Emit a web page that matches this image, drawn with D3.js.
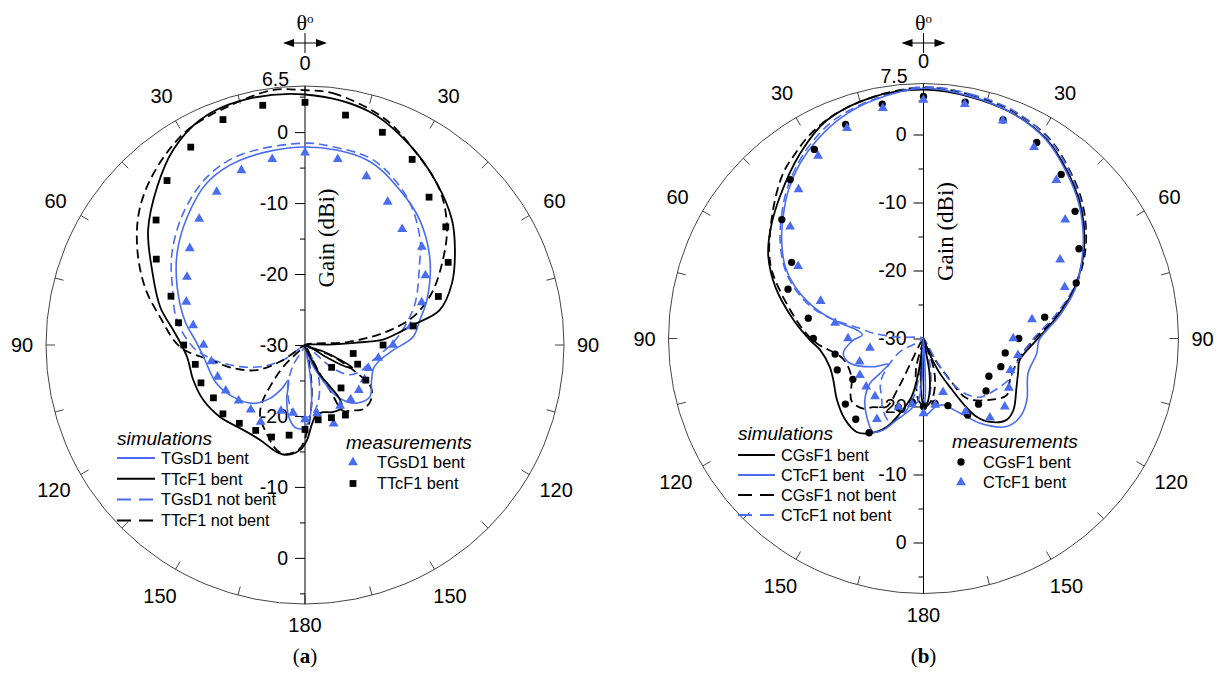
<!DOCTYPE html>
<html>
<head>
<meta charset="utf-8">
<script src="https://cdn.jsdelivr.net/npm/d3@7"></script>
<style>
  body { margin: 0; background: #fff; }
  svg { display: block; font-family: Arial, "Liberation Sans", sans-serif; }
  .serif { font-family: "Times New Roman", "Liberation Serif", serif; }
</style>
</head>
<body>
<svg id="chart" width="1218" height="675"></svg>
<script>
/* Two polar gain patterns (bent vs. not bent textile antennas).
   theta in degrees, 0 at top, clockwise positive, left half negative.
   gain in dBi, centre of each plot = -30 dBi. */

const BLUE = "#4a6cf0";

// measurement angles (10 degree steps round the circle)
const MEAS_THETA = [0, 10, 20, 30, 40, 50, 60, 70, 80, 90, 100, 110, 120, 130, 140, 150, 160, 170, 180,
  -170, -160, -150, -140, -130, -120, -110, -100, -90, -80, -70, -60, -50, -40, -30, -20, -10];

const ANGLE_TICKS = [0, 30, 60, 90, 120, 150, 180];
const GAIN_UP_LABELS = [-30, -20, -10, 0];
const GAIN_DOWN_LABELS = [-20, -10, 0];
const GAIN_MINOR = [-25, -15, -5, 5];

// ---------- panel (a) ----------
const A_TGSD1_BENT = [[0,-2.1],[18.5,-2.5],[31.5,-4.4],[42.6,-6.1],[55.8,-8.7],[69.8,-11.7],[78,-13.5],[85.6,-14.7],
  [93.2,-17.5],[101.3,-19.2],[108.8,-19.8],[117.7,-19.4],[128.5,-18.3],[136.4,-18.8],[143.7,-20.1],[149.6,-22.1],
  [154.7,-25.1],[161.6,-27.8],[166,-30],[170,-26],[172.6,-22.7],[176,-19.9],[180,-18.4],[-174.3,-18.2],[-168.7,-19.2],
  [-161.6,-21.8],[-155,-24.5],[-152,-23],[-146.7,-21],[-138.4,-19],[-125.8,-17.5],[-113.4,-16.4],[-96.6,-15.6],
  [-88,-14.6],[-79,-12.8],[-66,-10.3],[-54.3,-7.8],[-42.7,-5.5],[-31.2,-3.3],[-19.4,-2.4]];

const A_TTCF1_BENT = [[0,5.3],[15.6,4.1],[27.7,1.8],[39.2,-0.6],[49.6,-2.8],[57.7,-5],[67.1,-7.5],[75.5,-10.4],
  [79.5,-14.5],[83,-17],[86,-19],[87.5,-23],[89,-26.5],[91,-30],
  [110,-27],[113,-24.5],[115.5,-22.6],[118,-23.5],[119.5,-26.5],[121,-30],
  [156,-27.7],[153,-25.3],[149,-23.2],[147.2,-21.3],[149.5,-19.7],[158,-19.8],[165,-20.2],[171,-20],[175,-18.8],
  [178.8,-16.6],[-177.3,-15.2],[-170.7,-14.3],[-165.3,-14.4],[-154.7,-15.2],[-143.9,-15.2],[-130.3,-14.3],
  [-118.3,-13.7],[-107.4,-13.5],[-95.8,-13.3],[-87.7,-12.2],[-83.5,-11.3],[-75.3,-8.9],[-63.9,-6],[-53.8,-2.6],
  [-43.1,0.5],[-34,3.2],[-25,5],[-14.9,5.6]];

const A_TGSD1_FLAT = [[0,-1.55],[8,-1.8],[20.2,-2.2],[34.6,-4.7],[46.8,-7.8],[55,-10.3],[69.2,-13.4],[80,-15.8],
  [88,-17.5],[98,-19.5],[108,-20.8],[116,-21.4],[124,-22.5],[130,-25],[136,-30],[152,-27],[160,-24],[168,-21.5],
  [175,-20],[180,-19.8],[-175,-19.8],[-167,-21],[-158,-23.5],[-150,-26.5],[-140,-30],[-125,-26.5],[-116,-23],
  [-108.5,-20.4],[-102.6,-18.2],[-96.8,-16.1],[-91,-14.2],[-79,-11.6],[-66.4,-9.6],[-55.3,-7.2],[-42.7,-4.7],
  [-30.3,-2.6],[-18.9,-1.7]];

const A_TTCF1_FLAT = [[0,5.9],[6.3,5.7],[18.9,3.9],[28.7,1.6],[41,-1.05],[50.3,-4],[58.4,-7.2],[67.7,-10.7],
  [75.5,-14.3],[81.3,-18.9],[86,-24],[89,-30],
  [112,-26],[118,-22],[122.5,-19],[129.8,-17.9],[137.9,-17.8],[144,-18.6],[150,-19.3],[151,-22.5],[153,-26],[159,-30],
  [166,-28.1],[170.9,-24],[175.2,-20.4],[178.9,-17.6],[-177.2,-15.4],[-170.5,-14.4],[-164.9,-14.7],[-156.6,-16.4],
  [-147.9,-18.1],[-143.4,-19.8],[-140,-22.3],[-135,-25.7],[-130,-30],
  [-123.7,-25.8],[-117.4,-22.3],[-108,-19.4],[-99,-16.5],[-90.9,-12.4],[-79.1,-9.2],[-70.1,-6],[-59.7,-2.6],
  [-50.1,0.3],[-39.7,2.6],[-28.8,4.5],[-18.1,5.3],[-7.2,6.2]];

const A_TGSD1_MEAS = [-2.9,-3.4,-4.7,-6.7,-8.7,-8.5,-10.4,-12.5,-14.9,-17.6,-19.5,-20.5,-20.3,-20.1,-20,-20.1,-18.2,-20.2,-19.5,
  -20.3,-20.1,-17.5,-18.1,-17.8,-17.1,-16.9,-16.6,-15.7,-14,-12.2,-10.8,-8.8,-6.8,-5.1,-3.8,-3.4];
const A_TTCF1_MEAS = [4.2,2.9,1.9,0.2,-2.8,-4.1,-6.7,-10,-14.5,-19,-23.1,-22.1,-20.1,-25.1,-22.1,-18.6,-19.1,-19.3,-18.1,
  -17.1,-16.2,-16.1,-15.6,-14.9,-15.1,-14.4,-14.3,-12.9,-11.9,-9.9,-5.8,-2.6,0.25,2.2,3.8,4.3];

const A_SIM_LABELS = ["TGsD1 bent", "TTcF1 bent", "TGsD1 not bent", "TTcF1 not bent"];
const A_MEAS_LABELS = ["TGsD1 bent", "TTcF1 bent"];

// ---------- panel (b) ----------
const B_CGSF1_BENT = [[0,6.6],[10.9,6.2],[21.7,5.6],[31.8,4.4],[40.4,2.5],[49.2,0.4],[57.7,-2],[64.6,-4.2],[72.1,-6.8],
  [80.7,-10.1],[90.8,-13.4],[102.6,-15.5],[110,-15.2],[117.3,-14.6],[128.5,-13.1],[134.4,-12.9],[141.4,-14.3],
  [145.8,-16.1],[148,-18],[151,-21.5],[155,-24.5],[159,-27.9],[164,-30],[170,-25],[174,-21.8],[177.5,-20.3],
  [-179.5,-20.5],[-177,-23.5],[-175,-27.5],[-174,-30],[-171.5,-24.8],[-168.5,-21.3],[-162.6,-18.5],[-157.4,-15.9],
  [-150.6,-14],[-144.4,-13.1],[-136.1,-13.4],[-125.3,-14.4],[-114.7,-15.4],[-106.8,-15.6],[-96.3,-14.7],[-90.8,-13.3],
  [-81.9,-10.7],[-71,-7],[-62.2,-4.2],[-54.7,-2.4],[-45.3,-0.3],[-33.7,2.7],[-23.9,5.1],[-11.7,6.3]];

const B_CTCF1_BENT = [[0,6.8],[10.9,6.3],[21.7,5.6],[31.8,4.3],[40.4,2.3],[49.2,0.2],[57.7,-2.2],[64.6,-4.3],[72.1,-6.6],
  [80.7,-9.8],[90.8,-13],[97.4,-13.2],[108.4,-13.8],[120.8,-12.3],[129,-11.7],[136.7,-12.2],[146.3,-15],[151.1,-16.9],
  [157,-18.6],[163.4,-19.8],[170,-19.8],[176,-19],[179,-18.7],[178,-22],[177,-26],[176,-30],
  [-177.5,-27.3],[-177.7,-23.4],[-175.2,-20.9],[-169.3,-19.3],[-161.8,-17.4],[-156.3,-15.3],[-151.7,-14.4],
  [-144,-15.8],[-136.4,-17.5],[-130,-19.7],[-128.7,-21.8],[-126,-23.6],[-119.3,-21.5],[-108.6,-18.6],[-100.5,-18],
  [-92,-19.5],[-86.5,-21],[-82.7,-20.1],[-79,-17],[-73.9,-13.1],[-68,-9.6],[-62.6,-7.1],[-55.2,-4.6],[-48.2,-2.4],
  [-42.3,-0.5],[-35.2,1.5],[-28.3,3.1],[-20.8,4.6],[-11.9,5.8]];

const B_CGSF1_FLAT = [[0,6.9],[10.9,6.5],[21.7,5.9],[31.8,4.8],[40.4,2.9],[49.2,0.8],[57.7,-1.7],[64.6,-4],[72.1,-6.8],
  [80.7,-10.3],[90.8,-13.8],[100.7,-15.6],[115.6,-15.9],[124.2,-15.2],[132.8,-16.7],[144.2,-19.2],[147.4,-22.8],
  [152,-27],[157,-30],[160.8,-25.6],[166,-23],[172,-21],[178,-20],[-176,-20.7],[-172.7,-22.1],[-166,-25.5],[-160,-30],
  [-153,-21.5],[-151.6,-18.6],[-143.9,-17.5],[-139.2,-16.4],[-130.9,-16],[-118,-18],[-104.3,-17.8],[-92.6,-14.3],
  [-86,-12.3],[-70.4,-7.3],[-62.9,-4.6],[-49.5,-0.9],[-40.3,1.9],[-35.6,2.9],[-29.2,4.3],[-21.1,5.5],[-10.1,6.4]];

const B_CTCF1_FLAT = [[0,7],[10.9,6.6],[21.7,6],[31.8,4.7],[40.4,2.8],[49.2,0.6],[57.7,-1.9],[64.6,-4.2],[72.1,-7],
  [80.7,-10.6],[90.8,-14],[104.9,-15.8],[114.7,-16],[122.2,-16.7],[130,-17.4],[136,-18],[142,-19.5],[147,-22],
  [150,-26],[153,-30],[166,-26],[172,-22.5],[177,-20.5],[-178,-21.5],[-175,-26],[-172,-30],
  [-173,-24],[-170,-21],[-165,-18.5],[-158,-16.8],[-150,-18],[-144,-19.5],[-138,-20.5],[-132,-22],[-120,-25.8],[-105,-30],
  [-87,-26],[-84,-22.6],[-80.9,-20.5],[-78,-16.3],[-73.9,-12.6],[-68,-9.3],[-62.6,-6.9],[-55.2,-4.3],[-48.2,-2.1],
  [-42.3,-0.2],[-35.2,1.8],[-28.3,3.5],[-21.1,4.9],[-10.1,6.1]];

const B_CGSF1_MEAS = [5.6,5.3,4.2,3.3,1.5,-0.9,-3.6,-6.1,-11.9,-16,-17.8,-17.9,-18.9,-18,-17.4,-17,-19.5,-20.3,-20,
  -20.5,-19.2,-14,-14.5,-15,-18,-16.5,-16.8,-13.8,-12.8,-8.8,-7.6,-2.8,0.5,2.1,3.5,5];
const B_CTCF1_MEAS = [5.1,5,4.1,2.5,0.4,-2.8,-6.8,-7.9,-13.8,-16.8,-15.9,-16.4,-15.5,-14.4,-14.8,-17.6,-21.6,-20.1,-19,
  -20.2,-19.3,-16.3,-18.9,-19,-19.2,-20,-22,-18.9,-16.8,-13.9,-8.7,-4.4,-1.4,1,2.9,4.4];

const B_SIM_LABELS = ["CGsF1 bent", "CTcF1 bent", "CGsF1 not bent", "CTcF1 not bent"];
const B_MEAS_LABELS = ["CGsF1 bent", "CTcF1 bent"];

// ---------- layout of the two panels ----------
const PANELS = [
  { tag: "a", cx: 305, cy: 345, r: 259, max: 6.5,
    sims: [
      { data: A_TGSD1_BENT, color: BLUE,   dash: false, label: A_SIM_LABELS[0] },
      { data: A_TTCF1_BENT, color: "#000", dash: false, label: A_SIM_LABELS[1] },
      { data: A_TGSD1_FLAT, color: BLUE,   dash: true,  label: A_SIM_LABELS[2] },
      { data: A_TTCF1_FLAT, color: "#000", dash: true,  label: A_SIM_LABELS[3] }],
    meas: [
      { data: A_TGSD1_MEAS, color: BLUE,   symbol: d3.symbolTriangle, size: 42, label: A_MEAS_LABELS[0] },
      { data: A_TTCF1_MEAS, color: "#000", symbol: d3.symbolSquare,   size: 46, label: A_MEAS_LABELS[1] }],
    simLeg: { x: 117, y: 438, first: 20, step: 20.8, len: 38 },
    measLeg: { x: 346, y: 442, mx: 353, tx: 377, first: 20.5, step: 21 } },
  { tag: "b", cx: 923.5, cy: 338.5, r: 255, max: 7.5,
    sims: [
      { data: B_CGSF1_BENT, color: "#000", dash: false, label: B_SIM_LABELS[0] },
      { data: B_CTCF1_BENT, color: BLUE,   dash: false, label: B_SIM_LABELS[1] },
      { data: B_CGSF1_FLAT, color: "#000", dash: true,  label: B_SIM_LABELS[2] },
      { data: B_CTCF1_FLAT, color: BLUE,   dash: true,  label: B_SIM_LABELS[3] }],
    meas: [
      { data: B_CGSF1_MEAS, color: "#000", symbol: d3.symbolCircle,   size: 42, label: B_MEAS_LABELS[0] },
      { data: B_CTCF1_MEAS, color: BLUE,   symbol: d3.symbolTriangle, size: 42, label: B_MEAS_LABELS[1] }],
    simLeg: { x: 738, y: 433, first: 22, step: 20, len: 37 },
    measLeg: { x: 952, y: 441, mx: 961, tx: 983, first: 21, step: 20.5 } }
];

// how far outside the rim each angle label sits
const LABEL_GAP = { 0: 23, 30: 28, 60: 29, 90: 24, 120: 31, 150: 31, 180: 21 };

const svg = d3.select("#chart");
const rad = t => t * Math.PI / 180;

function drawPanel(p) {
  const g = svg.append("g");
  const rScale = d3.scaleLinear().domain([-30, p.max]).range([0, p.r]).clamp(true);
  const px = (t, d) => p.cx + d * Math.sin(rad(t));
  const py = (t, d) => p.cy - d * Math.cos(rad(t));

  // rim + 15 degree rim ticks
  g.append("circle").attr("cx", p.cx).attr("cy", p.cy).attr("r", p.r)
      .attr("fill", "none").attr("stroke", "#444").attr("stroke-width", 1);
  g.selectAll(".rim").data(d3.range(0, 360, 15)).join("line")
      .attr("x1", t => px(t, p.r - 9)).attr("y1", t => py(t, p.r - 9))
      .attr("x2", t => px(t, p.r)).attr("y2", t => py(t, p.r))
      .attr("stroke", "#444").attr("stroke-width", 1);

  // vertical gain axis through the centre
  g.append("line").attr("x1", p.cx).attr("x2", p.cx)
      .attr("y1", p.cy - p.r).attr("y2", p.cy + p.r)
      .attr("stroke", "#000").attr("stroke-width", 1);

  const yUp = d3.scaleLinear().domain([-30, p.max]).range([p.cy, p.cy - p.r]);
  const yDown = d3.scaleLinear().domain([-30, p.max]).range([p.cy, p.cy + p.r]);
  [[yUp, GAIN_UP_LABELS], [yDown, GAIN_DOWN_LABELS]].forEach(([sc, labels]) => {
    const minor = g.append("g").attr("transform", `translate(${p.cx},0)`)
        .call(d3.axisLeft(sc).tickValues(GAIN_MINOR).tickSize(5).tickFormat(""));
    const major = g.append("g").attr("transform", `translate(${p.cx},0)`)
        .call(d3.axisLeft(sc).tickValues(labels).tickSize(10).tickPadding(7).tickFormat(d => String(d)));
    [minor, major].forEach(a => { a.select(".domain").remove(); a.attr("font-size", 19.5).attr("font-family", null); });
  });
  g.append("text").attr("x", p.cx - 16).attr("y", p.cy - p.r - 7).attr("dy", "0.35em")
      .attr("text-anchor", "end").attr("font-size", 19.5).text(String(p.max));

  // angle labels on both halves
  ANGLE_TICKS.forEach(a => {
    const sides = (a === 0 || a === 180) ? [a] : [a, -a];
    const off = LABEL_GAP[a];
    sides.forEach(t => {
      g.append("text").attr("x", px(t, p.r + off)).attr("y", py(t, p.r + off)).attr("dy", "0.35em")
          .attr("text-anchor", "middle").attr("font-size", 20).text(String(a));
    });
  });

  // theta symbol with the double arrow
  const th = g.append("text").attr("class", "serif").attr("x", p.cx).attr("y", 22).attr("dy", "0.35em")
      .attr("text-anchor", "middle").attr("font-size", 22);
  th.append("tspan").text("θ");
  th.append("tspan").attr("font-size", 13).attr("dy", "-0.55em").text("o");
  g.append("line").attr("x1", p.cx - 20).attr("x2", p.cx + 20).attr("y1", 43).attr("y2", 43).attr("stroke", "#000");
  g.append("line").attr("x1", p.cx).attr("x2", p.cx).attr("y1", 33).attr("y2", 53).attr("stroke", "#000");
  g.append("path").attr("fill", "#000")
      .attr("d", `M${p.cx - 22},43 l11,-4 v8 z M${p.cx + 22},43 l-11,-4 v8 z`);

  g.append("text").attr("class", "serif")
      .attr("transform", `translate(${p.cx + 21},${p.cy - 107}) rotate(-90)`)
      .attr("dy", "0.35em").attr("text-anchor", "middle").attr("font-size", 23).text("Gain (dBi)");

  const cap = g.append("text").attr("class", "serif").attr("x", p.cx).attr("y", 656).attr("dy", "0.35em")
      .attr("text-anchor", "middle").attr("font-size", 21);
  cap.append("tspan").text("(");
  cap.append("tspan").attr("font-weight", "bold").text(p.tag);
  cap.append("tspan").text(")");

  // simulated patterns
  const line = d3.lineRadial()
      .angle(d => rad(d[0]))
      .radius(d => rScale(d[1]))
      .curve(d3.curveCatmullRomClosed.alpha(0.5));
  const order = p.sims.slice().sort((a, b) => (b.dash ? 1 : 0) - (a.dash ? 1 : 0));
  order.forEach(s => {
    g.append("path").attr("transform", `translate(${p.cx},${p.cy})`)
        .attr("d", line(s.data))
        .attr("fill", "none").attr("stroke", s.color)
        .attr("stroke-width", s.color === BLUE ? 1.6 : 1.8)
        .attr("stroke-dasharray", s.dash ? "9,5" : null)
        .attr("stroke-linejoin", "round");
  });

  // measured points
  p.meas.forEach(m => {
    const sym = d3.symbol().type(m.symbol).size(m.size);
    g.selectAll(null).data(m.data).join("path")
        .attr("transform", (v, i) => `translate(${px(MEAS_THETA[i], rScale(v))},${py(MEAS_THETA[i], rScale(v))})`)
        .attr("d", sym).attr("fill", m.color);
  });

  // legends
  const L = p.simLeg;
  g.append("text").attr("x", L.x).attr("y", L.y).attr("dy", "0.35em")
      .attr("font-size", 19).attr("font-style", "italic").text("simulations");
  p.sims.forEach((s, i) => {
    const y = L.y + L.first + i * L.step;
    g.append("line").attr("x1", L.x).attr("x2", L.x + L.len).attr("y1", y).attr("y2", y)
        .attr("stroke", s.color).attr("stroke-width", 2)
        .attr("stroke-dasharray", s.dash ? "14,8" : null);
    g.append("text").attr("x", L.x + L.len + 6).attr("y", y).attr("dy", "0.35em")
        .attr("font-size", 16.3).text(s.label);
  });
  const M = p.measLeg;
  g.append("text").attr("x", M.x).attr("y", M.y).attr("dy", "0.35em")
      .attr("font-size", 19).attr("font-style", "italic").text("measurements");
  p.meas.forEach((m, i) => {
    const y = M.y + M.first + i * M.step;
    g.append("path").attr("transform", `translate(${M.mx},${y})`)
        .attr("d", d3.symbol().type(m.symbol).size(m.size)).attr("fill", m.color);
    g.append("text").attr("x", M.tx).attr("y", y).attr("dy", "0.35em")
        .attr("font-size", 16.3).text(m.label);
  });
}

PANELS.forEach(drawPanel);
</script>
</body>
</html>
